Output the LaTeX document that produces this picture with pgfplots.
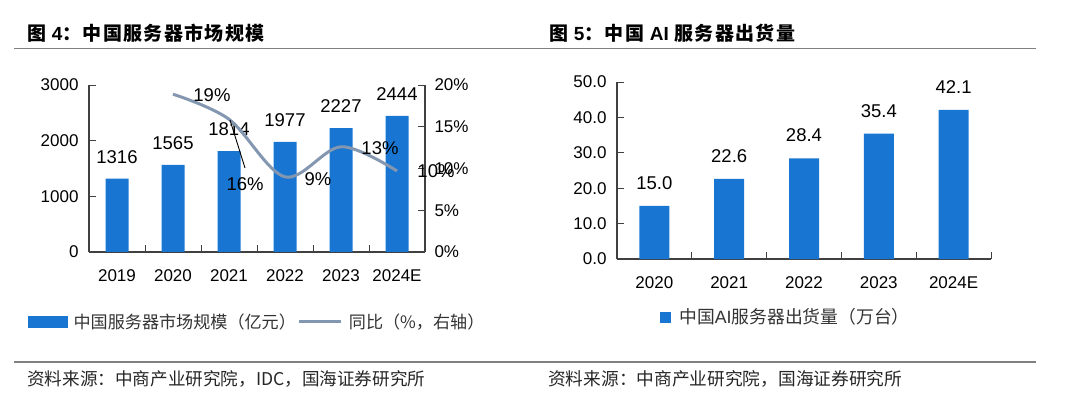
\documentclass[border=0pt]{standalone}
\usepackage{fontspec}
\setmainfont{Liberation Sans}
\newfontfamily\cjk{Noto Sans CJK SC}
\newfontfamily\cjkt{Noto Sans CJK SC}[LetterSpace=7]
\usepackage{pgfplots}
\pgfplotsset{compat=1.18}

\definecolor{barblue}{RGB}{24,118,210}
\definecolor{linegray}{RGB}{132,151,176}
\definecolor{rulegray}{RGB}{128,128,128}

\pgfplotsset{
  base/.style={
    scale only axis,
    /pgf/number format/assume math mode=true,
    /pgf/number format/1000 sep={},
    tick label style={font=\fontsize{17}{17}\selectfont, text=black},
    tick align=inside,
    major tick length=7pt,
    axis line style={black!75, line width=1.1pt},
    tick style={black!75, line width=1pt},
    x tick label as interval,
    xticklabel style={yshift=-14pt},
  },
  barlabels/.style={
    nodes near coords,
    nodes near coords style={font=\fontsize{18.5}{18}\selectfont, text=black, anchor=center, yshift=#1},
  },
}

\begin{document}
\begin{tikzpicture}

% ---- figure 4: market size + growth
\begin{axis}[base, barlabels=22pt,
  at={(89pt,150pt)}, anchor=south west, width=336pt, height=167pt,
  xmin=-0.5, xmax=5.5, ymin=0, ymax=3000,
  axis x line*=bottom, axis y line*=left,
  xtick={-0.5,0.5,...,5.5},
  xticklabels={2019,2020,2021,2022,2023,2024E},
  ytick={0,1000,2000,3000},
  yticklabel style={xshift=-7pt},
]
\addplot[ybar, bar width=23pt, fill=barblue, draw=none]
  coordinates {(0,1316) (1,1565) (2,1814) (3,1977) (4,2227) (5,2444)};
\end{axis}

\begin{axis}[base, clip=false,
  at={(89pt,150pt)}, anchor=south west, width=336pt, height=167pt,
  xmin=-0.5, xmax=5.5, ymin=0, ymax=20,
  axis x line=none, axis y line*=right,
  ytick={0,5,...,20},
  yticklabel={\pgfmathprintnumber{\tick}\%},
  yticklabel style={xshift=6pt},
  legend style={at={(-0.1815,-0.419)}, anchor=west, draw=none, fill=none,
    inner sep=0pt, font=\cjk\fontsize{17.1}{17}\selectfont, text=black!80,
    /tikz/every odd column/.append style={column sep=4pt}},
  legend columns=-1,
]
\addlegendimage{legend image code/.code={\fill[barblue] (0pt,-5.5pt) rectangle (39pt,5.5pt);}}
\addlegendentry{中国服务器市场规模（亿元）}
\addplot[smooth, tension=0.55, linegray, line width=3pt,
  legend image code/.code={\draw[linegray, line width=3pt] (0pt,0pt) -- (42pt,0pt);}]
  coordinates {(1,18.9) (2,15.9) (3,9.0) (4,12.6) (5,9.7)};
\addlegendentry{同比（\%，右轴）}
\draw[black, line width=0.9pt] (axis cs:2.018,15.8) -- (axis cs:2.286,10.06);
\begin{scope}[every node/.style={font=\fontsize{18.5}{18}\selectfont, text=black}]
\node at (axis cs:1.696,18.8) {19\%};
\node at (axis cs:2.286,8.14) {16\%};
\node at (axis cs:3.589,8.74) {9\%};
\node at (axis cs:4.696,12.46) {13\%};
\node at (axis cs:5.696,9.70) {10\%};
\end{scope}
\end{axis}

% ---- figure 5: AI server shipments
\begin{axis}[base, barlabels=23pt,
  at={(617pt,143pt)}, anchor=south west, width=374pt, height=177pt,
  xmin=-0.5, xmax=4.5, ymin=0, ymax=50,
  axis x line*=bottom, axis y line*=left,
  xtick={-0.5,0.5,...,4.5},
  xticklabels={2020,2021,2022,2023,2024E},
  ytick={0,10,...,50},
  yticklabel style={xshift=-7pt},
  /pgf/number format/fixed, /pgf/number format/fixed zerofill,
  /pgf/number format/precision=1,
  legend style={at={(0.115,-0.328)}, anchor=west, draw=none, fill=none,
    inner sep=0pt, font=\fontsize{17.8}{17}\selectfont, text=black!80,
    /tikz/every odd column/.append style={column sep=6pt}},
  legend image code/.code={\fill[barblue] (0pt,-5.5pt) rectangle (11pt,5.5pt);},
]
\addplot[ybar, bar width=30pt, fill=barblue, draw=none]
  coordinates {(0,15.0) (1,22.6) (2,28.4) (3,35.4) (4,42.1)};
\addlegendentry{{\cjk 中国}AI{\cjk 服务器出货量（万台）}}
\end{axis}

% ---- titles, rules, sources
\draw[rulegray, line width=1.5pt] (14pt,353.5pt) -- (1036pt,353.5pt);
\draw[rulegray, line width=1.5pt] (14pt,40pt) -- (1036pt,40pt);
\node[anchor=west, inner sep=0pt, font=\cjkt\bfseries\fontsize{19}{19}\selectfont]
  at (27pt,369pt) {图 {\rmfamily\bfseries 4}：中国服务器市场规模};
\node[anchor=west, inner sep=0pt, font=\cjkt\bfseries\fontsize{19}{19}\selectfont]
  at (549pt,369pt) {图 {\rmfamily\bfseries 5}：中国 {\rmfamily\bfseries AI} 服务器出货量};
\node[anchor=west, inner sep=0pt, font=\cjk\fontsize{17.6}{17}\selectfont, text=black!85]
  at (27pt,23pt) {资料来源：中商产业研究院，IDC，国海证券研究所};
\node[anchor=west, inner sep=0pt, font=\cjk\fontsize{17.7}{17}\selectfont, text=black!85]
  at (548pt,23pt) {资料来源：中商产业研究院，国海证券研究所};

\pgfresetboundingbox
\useasboundingbox (0,0) rectangle (1069pt,402pt);
\end{tikzpicture}
\end{document}
